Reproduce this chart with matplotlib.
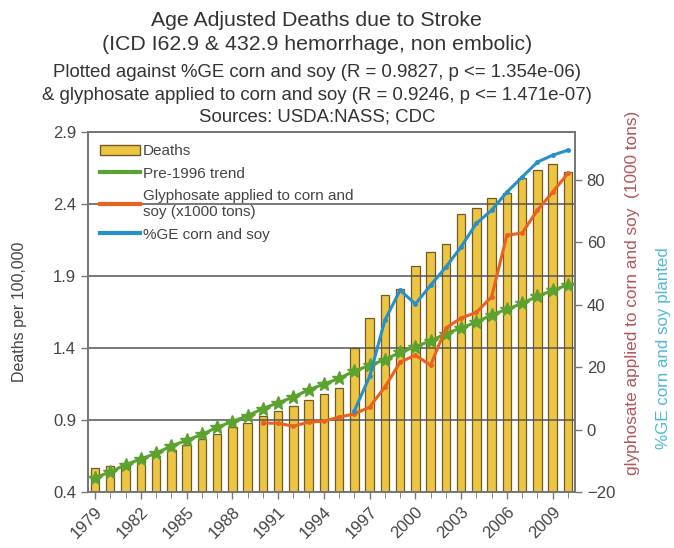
import numpy as np
import matplotlib
matplotlib.use("Agg")
import matplotlib.pyplot as plt
from matplotlib.patches import Patch
from matplotlib.lines import Line2D

plt.rcParams['font.family'] = ['Liberation Sans', 'DejaVu Sans']

# data
years = list(range(1979, 2011))
deaths = [0.57, 0.58, 0.60, 0.63, 0.65, 0.69, 0.73, 0.77, 0.80, 0.85,
          0.88, 0.93, 0.96, 1.00, 1.04, 1.08, 1.12, 1.40, 1.61, 1.77,
          1.81, 1.97, 2.07, 2.12, 2.33, 2.37, 2.44, 2.48, 2.58, 2.64,
          2.68, 2.62]
trend = [0.50, 0.54, 0.59, 0.63, 0.67, 0.72, 0.76, 0.80, 0.85, 0.89,
         0.93, 0.98, 1.02, 1.06, 1.11, 1.15, 1.19, 1.24, 1.28, 1.32,
         1.37, 1.41, 1.45, 1.50, 1.54, 1.58, 1.63, 1.67, 1.71, 1.76,
         1.80, 1.84]
gly_years = list(range(1990, 2011))
glyphosate = [2.1, 2.0, 1.1, 2.4, 2.7, 4.0, 5.0, 7.2, 13.6, 21.6,
              23.8, 20.6, 32.5, 35.7, 37.5, 42.5, 62.2, 62.9, 70.2, 76.0,
              82.0]
ge_years = list(range(1996, 2011))
ge_pct = [6.0, 17.0, 35.0, 44.6, 40.2, 46.2, 52.0, 58.5, 66.0, 70.2,
          76.0, 80.8, 85.6, 87.8, 89.4]

xticks = list(range(1979, 2011, 3))
left_ticks = [0.4, 0.9, 1.4, 1.9, 2.4, 2.9]
right_ticks = [-20, 0, 20, 40, 60, 80]

bar_col = '#EEC543'
green = '#5BA22E'
orange = '#E9621E'
blue = '#2690C8'
txt = '#444444'
frame = '#777777'

fig = plt.figure(figsize=(6.74, 5.48), dpi=100)
ax = fig.add_axes([0.1306, 0.102, 0.7224, 0.657])

ax.bar(years, deaths, width=0.55, color=bar_col, edgecolor='#6E5B25', linewidth=0.9, zorder=1)
ax.plot(years, trend, color=green, lw=2.2, marker='*', ms=10, zorder=4)

ax.set_xlim(1978.54, 2010.46)
ax.set_ylim(0.4, 2.9)
ax.set_yticks(left_ticks)
ax.set_yticklabels([f'{v:.1f}' for v in left_ticks])
ax.set_xticks(xticks)
ax.set_xticks(years, minor=True)
ax.set_xticklabels([str(y) for y in xticks], rotation=45, ha='right', rotation_mode='anchor')
ax.tick_params(axis='both', colors=txt, labelsize=12, length=5, width=1, color=frame)
ax.tick_params(axis='x', which='minor', length=4, color=frame)
ax.set_ylabel('Deaths per 100,000', color=txt, fontsize=11.5, labelpad=19)

ax.grid(axis='y', color='#555555', lw=1.1)
ax.set_axisbelow(False)
for s in ax.spines.values():
    s.set_color(frame)
    s.set_linewidth(1.3)

ax2 = ax.twinx()
ax2.plot(gly_years, glyphosate, color=orange, lw=2.2, marker='o', ms=2.5)
ax2.plot(ge_years, ge_pct, color=blue, lw=2.2, marker='o', ms=2.5)
ax2.set_ylim(-20, 95.2)
ax2.set_yticks(right_ticks)
ax2.tick_params(axis='y', colors=txt, labelsize=12, length=5, width=1, color=frame)
for s in ax2.spines.values():
    s.set_color(frame)
    s.set_linewidth(1.3)

fig.text(0.938, 0.465, 'glyphosate applied to corn and soy  (1000 tons)', rotation=90,
         ha='center', va='center', color='#B5555A', fontsize=12.4)
fig.text(0.985, 0.365, '%GE corn and soy planted', rotation=90,
         ha='center', va='center', color='#4FB8D8', fontsize=12.2)

fig.text(0.47, 0.963, 'Age Adjusted Deaths due to Stroke', ha='center', va='center',
         color='#333333', fontsize=15.3)
fig.text(0.47, 0.918, '(ICD I62.9 & 432.9 hemorrhage, non embolic)', ha='center', va='center',
         color='#333333', fontsize=15.3)
fig.text(0.47, 0.868, 'Plotted against %GE corn and soy (R = 0.9827, p <= 1.354e-06)',
         ha='center', va='center', color='#333333', fontsize=13.4)
fig.text(0.47, 0.826, '& glyphosate applied to corn and soy (R = 0.9246, p <= 1.471e-07)',
         ha='center', va='center', color='#333333', fontsize=13.4)
fig.text(0.47, 0.786, 'Sources: USDA:NASS; CDC', ha='center', va='center',
         color='#333333', fontsize=13.4)

handles = [Patch(facecolor=bar_col, edgecolor='#6E5B25'),
           Line2D([], [], color=green, lw=3),
           Line2D([], [], color=orange, lw=3),
           Line2D([], [], color=blue, lw=3)]
labels = ['Deaths', 'Pre-1996 trend', 'Glyphosate applied to corn and\nsoy (x1000 tons)', '%GE corn and soy']
leg = ax.legend(handles, labels, loc='upper left', frameon=False, fontsize=11,
                handlelength=2.6, handletextpad=0.2, labelcolor=txt,
                bbox_to_anchor=(0.0, 1.0), labelspacing=0.55, borderaxespad=0.4)
leg.set_zorder(10)

fig.savefig('out.png', dpi=100)
